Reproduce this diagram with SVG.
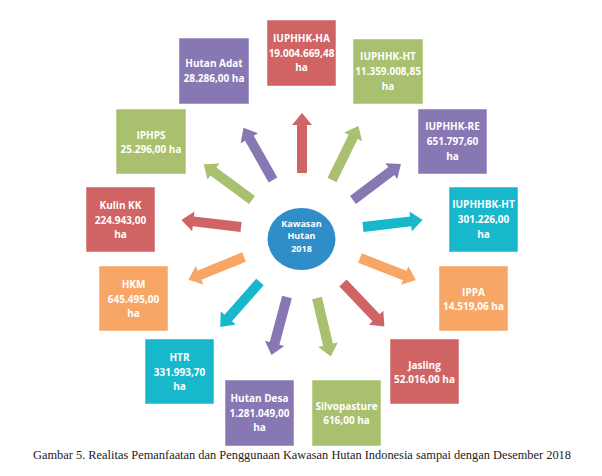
<svg xmlns="http://www.w3.org/2000/svg" xmlns:xlink="http://www.w3.org/1999/xlink" width="602" height="476" viewBox="0 0 602 476">
<style>
.box{stroke:#ffffff;stroke-opacity:0.5;stroke-width:1}
.lbl{font-family:"Open Sans","Liberation Sans",sans-serif;font-weight:bold;font-size:10px;fill:#ffffff;text-anchor:middle}
.clbl{font-size:9px}
.red{fill:#D06363}.pur{fill:#8778B4}.grn{fill:#A9C06E}.cyn{fill:#17B8CC}.org{fill:#F8A666}
.cap{font-family:"Liberation Serif","DejaVu Serif",serif;font-size:12px;fill:#222222}
</style>
<defs>
<path id="arr" d="M0,-5 H48 V-10 L60,0 L48,10 V5 H0 Z"/>
</defs>
<rect width="602" height="476" fill="#ffffff"/>
<g id="connectors">
<use xlink:href="#arr" class="red" transform="translate(302,173) rotate(-90)"/>
<use xlink:href="#arr" class="pur" transform="translate(273,180) rotate(-119.5)"/>
<use xlink:href="#arr" class="grn" transform="translate(252,200) rotate(-143.5)"/>
<use xlink:href="#arr" class="red" transform="translate(241,227) rotate(-173.3)"/>
<use xlink:href="#arr" class="org" transform="translate(244,257) rotate(157.7)"/>
<use xlink:href="#arr" class="cyn" transform="translate(260,282) rotate(131.5)"/>
<use xlink:href="#arr" class="pur" transform="translate(287,297) rotate(105)"/>
<use xlink:href="#arr" class="grn" transform="translate(317,298) rotate(76.7)"/>
<use xlink:href="#arr" class="red" transform="translate(343,283) rotate(46.4)"/>
<use xlink:href="#arr" class="org" transform="translate(360,258) rotate(21.4)"/>
<use xlink:href="#arr" class="cyn" transform="translate(363,227) rotate(-6.7)"/>
<use xlink:href="#arr" class="pur" transform="translate(353,200) rotate(-37)"/>
<use xlink:href="#arr" class="grn" transform="translate(332,180) rotate(-63.9)"/>
</g>
<g id="center">
<ellipse cx="301.5" cy="239" rx="34" ry="31" fill="#2F8EC8"/>
<text class="lbl clbl" x="301.5" y="226.8">Kawasan</text>
<text class="lbl clbl" x="301.5" y="239.3">Hutan</text>
<text class="lbl clbl" x="301.5" y="251.8">2018</text>
</g>
<g id="iuphhk-ha">
<rect class="box red" x="267" y="20" width="69" height="66"/>
<text class="lbl" x="301.5" y="41.6">IUPHHK-HA</text>
<text class="lbl" x="301.5" y="56.6">19.004.669,48</text>
<text class="lbl" x="301.5" y="70.6">ha</text>
</g>
<g id="iuphhk-ht">
<rect class="box grn" x="353" y="39" width="70" height="65"/>
<text class="lbl" x="388" y="60.1">IUPHHK-HT</text>
<text class="lbl" x="388" y="75.1">11.359.008,85</text>
<text class="lbl" x="388" y="89.6">ha</text>
</g>
<g id="iuphhk-re">
<rect class="box pur" x="418" y="109" width="69" height="65"/>
<text class="lbl" x="452.5" y="130.1">IUPHHK-RE</text>
<text class="lbl" x="452.5" y="145.1">651.797,60</text>
<text class="lbl" x="452.5" y="159.6">ha</text>
</g>
<g id="iuphhbk-ht">
<rect class="box cyn" x="449" y="187" width="69" height="65"/>
<text class="lbl" x="483.5" y="208.1">IUPHHBK-HT</text>
<text class="lbl" x="483.5" y="223.1">301.226,00</text>
<text class="lbl" x="483.5" y="237.6">ha</text>
</g>
<g id="ippa">
<rect class="box org" x="439" y="266" width="69" height="65"/>
<text class="lbl" x="473.5" y="295.6">IPPA</text>
<text class="lbl" x="473.5" y="310.1">14.519,06 ha</text>
</g>
<g id="jasling">
<rect class="box red" x="390" y="339" width="69" height="65"/>
<text class="lbl" x="424.5" y="368.6">Jasling</text>
<text class="lbl" x="424.5" y="383.1">52.016,00 ha</text>
</g>
<g id="silvopasture">
<rect class="box grn" x="312" y="380" width="69" height="66"/>
<text class="lbl" x="346.5" y="409.8">Silvopasture</text>
<text class="lbl" x="346.5" y="424.3">616,00 ha</text>
</g>
<g id="hutan-desa">
<rect class="box pur" x="225" y="380" width="69" height="66"/>
<text class="lbl" x="259.5" y="402.1">Hutan Desa</text>
<text class="lbl" x="259.5" y="416.6">1.281.049,00</text>
<text class="lbl" x="259.5" y="431.1">ha</text>
</g>
<g id="htr">
<rect class="box cyn" x="145" y="339" width="69" height="65"/>
<text class="lbl" x="179.5" y="361.1">HTR</text>
<text class="lbl" x="179.5" y="375.6">331.993,70</text>
<text class="lbl" x="179.5" y="390.1">ha</text>
</g>
<g id="hkm">
<rect class="box org" x="99" y="266" width="69" height="65"/>
<text class="lbl" x="133.5" y="288.1">HKM</text>
<text class="lbl" x="133.5" y="302.6">645.495,00</text>
<text class="lbl" x="133.5" y="317.1">ha</text>
</g>
<g id="kulin-kk">
<rect class="box red" x="86" y="187" width="69" height="65"/>
<text class="lbl" x="120.5" y="209.1">Kulin KK</text>
<text class="lbl" x="120.5" y="223.6">224.943,00</text>
<text class="lbl" x="120.5" y="238.1">ha</text>
</g>
<g id="iphps">
<rect class="box grn" x="116" y="109" width="70" height="65"/>
<text class="lbl" x="151" y="138.6">IPHPS</text>
<text class="lbl" x="151" y="153.1">25.296,00 ha</text>
</g>
<g id="hutan-adat">
<rect class="box pur" x="179" y="38" width="70" height="66"/>
<text class="lbl" x="214" y="66.6">Hutan Adat</text>
<text class="lbl" x="214" y="81.6">28.286,00 ha</text>
</g>
<text class="cap" x="33" y="459" textLength="538" lengthAdjust="spacingAndGlyphs">Gambar 5. Realitas Pemanfaatan dan Penggunaan Kawasan Hutan Indonesia sampai dengan Desember 2018</text>
</svg>
